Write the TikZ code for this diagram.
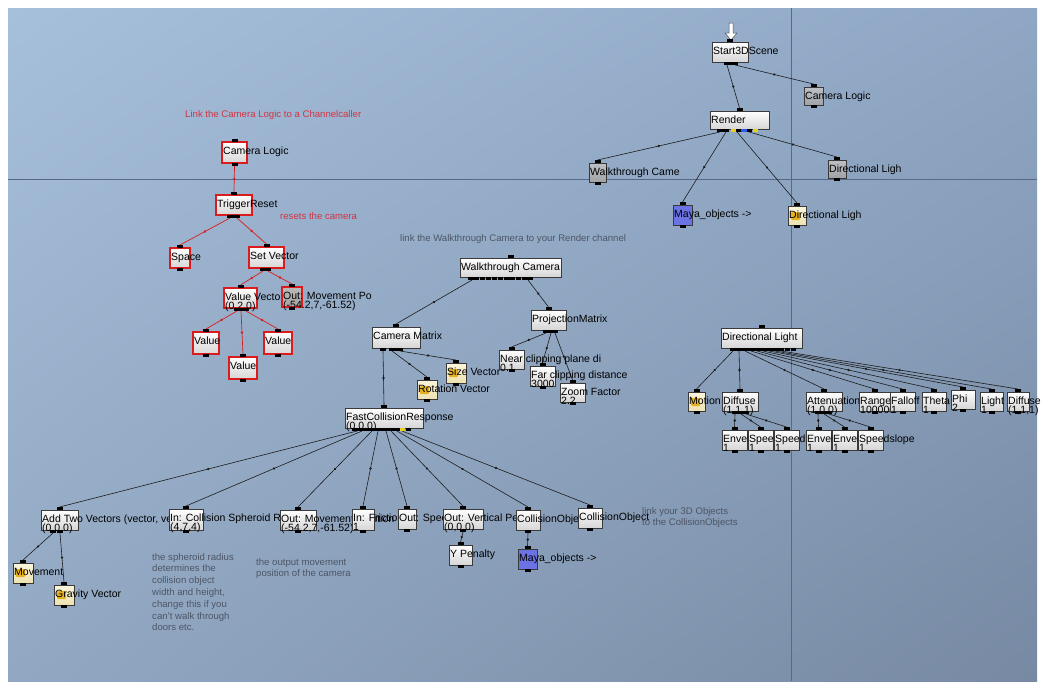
\documentclass[tikz,border=0pt]{standalone}
\usepackage{fontspec}
\setmainfont{Liberation Sans}
\usepackage{tikz}
\usetikzlibrary{
  calc,
  positioning,
  shadings,
  decorations.markings,
}
\definecolor{bgtl}{HTML}{A6BFDB}
\definecolor{bgtr}{HTML}{8FA7C4}
\definecolor{bgbl}{HTML}{92A8C2}
\definecolor{bgbr}{HTML}{7789A3}
\definecolor{gridc}{HTML}{56698A}
\definecolor{linkc}{HTML}{1C1C1C}
\definecolor{redc}{HTML}{DC1C1C}
\definecolor{boxline}{HTML}{3A3A3A}
\definecolor{boxbot}{HTML}{D6D6D6}
\definecolor{refgrey}{HTML}{BDC0C4}
\definecolor{mayablue}{HTML}{6B72E4}
\definecolor{yelt}{HTML}{FBF6DC}
\definecolor{yelb}{HTML}{EDE2B0}
\definecolor{iconc}{HTML}{E6B020}
\definecolor{pinyel}{HTML}{E8D020}
\definecolor{pinblue}{HTML}{2A5CF0}
\definecolor{notegrey}{HTML}{4C5666}
\definecolor{notered}{HTML}{D03444}

\pgfdeclarelayer{bg}
\pgfsetlayers{bg,main}

\newcommand{\lblfont}{\fontsize{10.5}{12}\selectfont}
\newcommand{\notefont}{\fontsize{9.6}{11.8}\selectfont}

\tikzset{
  plainbox/.style={draw=boxline, line width=0.6pt, top color=white, bottom color=boxbot,
    inner sep=0pt, outer sep=0pt},
  refbox/.style={plainbox, top color=refgrey, bottom color=refgrey!85!black},
  bluebox/.style={plainbox, top color=mayablue, bottom color=mayablue},
  yelbox/.style={plainbox, top color=yelt, bottom color=yelb,
    path picture={\fill[iconc, rounded corners=1pt]
      ([xshift=3pt,yshift=-6pt]path picture bounding box.north west) rectangle ++(9pt,-8pt);}},
  redbox/.style={plainbox, draw=redc, line width=1.5pt},
  redout/.style={redbox, top color=gray!55, bottom color=gray!70},
  lbl/.style={anchor=base west, inner sep=0pt, font=\lblfont, text=black},
  note/.style={anchor=north west, inner sep=0pt, align=left, font=\notefont, text=notegrey},
  rednote/.style={note, text=notered},
  pinc/.style={fill=black},
  link/.style={draw=linkc, line width=0.6pt, postaction={decorate},
    decoration={markings, mark=at position 0.5 with {\fill[linkc] (0,0) circle (1.3pt);}}},
  redlink/.style={draw=redc, line width=0.7pt, postaction={decorate},
    decoration={markings, mark=at position 0.5 with {\fill[redc] (0,0) circle (1.4pt);}}},
}

% box: [style]{name}{x}{y}{w}{h}{label}{second line}
\newcommand{\blk}[8][plainbox]{%
  \node[#1, minimum width=#5, minimum height=#6, anchor=north west] (#2) at (#3,#4) {};
  \fill[pinc] ([xshift=-3pt]#2.north) rectangle ([xshift=3pt,yshift=3pt]#2.north);
  \fill[pinc] ([xshift=-3pt]#2.south) rectangle ([xshift=3pt,yshift=-3pt]#2.south);
  \node[lbl] (#2-t) at ([xshift=1pt,yshift=-12pt]#2.north west) {#7};
  \if\relax\detokenize{#8}\relax\else
    \node[lbl] (#2-s) at ([xshift=1pt,yshift=-21pt]#2.north west) {#8};
  \fi
}
% connector: [style]{parent}{x offset on parent bottom}{child}
\newcommand{\lnk}[4][link]{%
  \fill[pinc] ([xshift=#3pt-3pt]#2.south west) rectangle ([xshift=#3pt+3pt,yshift=-3pt]#2.south west);
  \begin{pgfonlayer}{bg}
    \draw[#1] ([xshift=#3pt,yshift=-3pt]#2.south west) -- ([yshift=3pt]#4.north);
  \end{pgfonlayer}
}

\begin{document}
\begin{tikzpicture}[x=1pt, y=-1pt]
  \useasboundingbox (0,0) rectangle (1041,686);
  \begin{pgfonlayer}{bg}
    \fill[white] (0,0) rectangle (1041,686);
    \shade[upper left=bgtl, upper right=bgtr, lower left=bgbl, lower right=bgbr]
      (8,8) rectangle (1037,681);
    \draw[gridc, line width=0.8pt] (8,179) -- (1037,179);
    \draw[gridc, line width=0.8pt] (791,8) -- (791,681);
  \end{pgfonlayer}

  % scene start
  \filldraw[fill=white, draw=gray!60!black, line width=0.5pt]
    (729,23) -- (733,23) -- (733,33) -- (737,33) -- (731,40) -- (725,33) -- (729,33) -- cycle;
  \blk{start}{712}{42}{36}{20}{Start3DScene}{}
  \blk[refbox]{camref}{804}{87}{19}{18}{Camera Logic}{}
  \blk{render}{710}{111}{59}{18}{Render}{}
  \blk[refbox]{walkref}{589}{163}{17}{19}{Walkthrough Came}{}
  \blk[bluebox]{mayatop}{673}{205}{19}{20}{Maya\_objects ->}{}
  \blk[yelbox]{dirlit}{788}{206}{18}{19}{Directional Ligh}{}
  \blk[refbox]{dirref}{828}{160}{18}{18}{Directional Ligh}{}
  \lnk{start}{15}{render}
  \lnk{start}{23}{camref}
  \lnk{render}{10}{walkref}
  \lnk{render}{16}{mayatop}
  \lnk{render}{27}{dirlit}
  \lnk{render}{39}{dirref}
  \fill[pinyel] ([xshift=21pt]render.south west) rectangle ++(5pt,-3pt);
  \fill[pinblue] ([xshift=31pt]render.south west) rectangle ++(6pt,-3pt);
  \fill[pinyel] ([xshift=43pt]render.south west) rectangle ++(5pt,-3pt);

  % camera reset logic
  \node[rednote] (note-link) at (185,110) {Link the Camera Logic to a Channelcaller};
  \node[rednote] (note-reset) at (280,212) {resets the camera};
  \blk[redbox]{camlogic}{222}{142}{25}{21}{Camera Logic}{}
  \blk[redbox]{trigger}{216}{195}{36}{20}{TriggerReset}{}
  \blk[redbox]{space}{170}{248}{20}{20}{Space}{}
  \blk[redbox]{setvec}{249}{247}{35}{21}{Set Vector}{}
  \blk[redbox]{valvec}{224}{288}{33}{20}{Value Vector}{(0,2,0)}
  \blk[redout]{outmove}{282}{287}{20}{20}{Out: Movement Po}{(-54.2,7,-61.52)}
  \blk[redbox]{valx}{193}{332}{26}{22}{Value}{}
  \blk[redbox]{valy}{229}{357}{28}{22}{Value}{}
  \blk[redbox]{valz}{264}{332}{28}{22}{Value}{}
  \lnk[redlink]{camlogic}{12.5}{trigger}
  \lnk[redlink]{trigger}{14}{space}
  \lnk[redlink]{trigger}{21}{setvec}
  \lnk[redlink]{setvec}{14}{valvec}
  \lnk[redlink]{setvec}{19}{outmove}
  \lnk[redlink]{valvec}{13}{valx}
  \lnk[redlink]{valvec}{17}{valy}
  \lnk[redlink]{valvec}{22}{valz}

  % walkthrough camera
  \node[note] (note-walk) at (400,234) {link the Walkthrough Camera to your Render channel};
  \blk{walk}{460}{258}{101}{19}{Walkthrough Camera}{}
  \foreach \dx in {10,16,...,70}
    \fill[pinc] ([xshift=\dx pt-2.5pt]walk.south west) rectangle ([xshift=\dx pt+2.5pt,yshift=-3pt]walk.south west);
  \blk{cammat}{372}{327}{48}{21}{Camera Matrix}{}
  \blk{projmat}{531}{310}{35}{20}{ProjectionMatrix}{}
  \blk[yelbox]{rotvec}{417}{380}{20}{19}{Rotation Vector}{}
  \blk[yelbox]{sizevec}{446}{363}{20}{20}{Size Vector}{}
  \blk{nearclip}{499}{350}{25}{19}{Near clipping plane di}{0.1}
  \blk{farclip}{530}{366}{25}{20}{Far clipping distance}{3000}
  \blk{zoomfac}{560}{383}{25}{19}{Zoom Factor}{2.2}
  \lnk{walk}{12}{cammat}
  \lnk{walk}{68}{projmat}
  \lnk{cammat}{20}{rotvec}
  \lnk{cammat}{28}{sizevec}
  \lnk{projmat}{15}{nearclip}
  \lnk{projmat}{20}{farclip}
  \lnk{projmat}{24}{zoomfac}

  % collision response
  \blk{fcr}{345}{408}{78}{20}{FastCollisionResponse}{(0,0,0)}
  \lnk{cammat}{11}{fcr}
  \foreach \dx in {9,15,...,63}
    \fill[pinc] ([xshift=\dx pt-2.5pt]fcr.south west) rectangle ([xshift=\dx pt+2.5pt,yshift=-3pt]fcr.south west);
  \blk{addvec}{41}{510}{37}{20}{Add Two Vectors (vector, vector)}{(0,0,0)}
  \blk{inrad}{169}{509}{34}{21}{In: Collision Spheroid Radius}{(4,7,4)}
  \blk{outpos}{280}{510}{36}{20}{Out: Movement Position}{(-54.2,7,-61.52)}
  \blk{infric}{352}{509}{22}{21}{In: Friction}{1}
  \blk{outspeed}{398}{509}{18}{20}{Out: Speed}{}
  \blk{outvpen}{443}{509}{40}{20}{Out: Vertical Penalty}{(0,0,0)}
  \blk{colobja}{516}{510}{24}{20}{CollisionObject}{}
  \blk{colobjb}{578}{508}{24}{20}{CollisionObject}{}
  \blk{ypen}{449}{545}{23}{20}{Y Penalty}{}
  \blk[bluebox]{mayabot}{518}{549}{19}{20}{Maya\_objects ->}{}
  \blk[yelbox]{movement}{13}{563}{20}{20}{Movement}{}
  \blk[yelbox]{gravity}{54}{585}{20}{20}{Gravity Vector}{}
  \lnk{fcr}{12}{addvec}
  \lnk{fcr}{17}{inrad}
  \lnk{fcr}{27}{outpos}
  \lnk{fcr}{33}{infric}
  \lnk{fcr}{41}{outspeed}
  \lnk{fcr}{46}{outvpen}
  \lnk{fcr}{52}{colobja}
  \lnk{fcr}{57}{colobjb}
  \fill[pinyel] ([xshift=55pt]fcr.south west) rectangle ++(5pt,-3pt);
  \lnk{outvpen}{20}{ypen}
  \lnk{colobja}{12}{mayabot}
  \lnk{addvec}{12}{movement}
  \lnk{addvec}{19}{gravity}
  \node[note] (note-radius) at (152,553) {the spheroid radius\\determines the\\collision object\\width and height,\\change this if you\\can't walk through\\doors etc.};
  \node[note] (note-output) at (256,558) {the output movement\\position of the camera};
  \node[note] (note-objects) at (642,507) {link your 3D Objects\\to the CollisionObjects};

  % directional light
  \blk{dirlight}{721}{328}{81}{20}{Directional Light}{}
  \foreach \dx in {12,18,...,72}
    \fill[pinc] ([xshift=\dx pt-2.5pt]dirlight.south west) rectangle ([xshift=\dx pt+2.5pt,yshift=-3pt]dirlight.south west);
  \blk[yelbox]{motion}{688}{392}{17}{19}{Motion}{}
  \blk{diffa}{722}{392}{36}{19}{Diffuse}{(1,1,1)}
  \blk{atten}{806}{392}{36}{19}{Attenuation}{(1,0,0)}
  \blk{range}{859}{392}{31}{19}{Range}{100000}
  \blk{falloff}{890}{392}{25}{19}{Falloff}{1}
  \blk{theta}{922}{392}{24}{19}{Theta}{1}
  \blk{phi}{951}{390}{24}{19}{Phi}{2}
  \blk{light}{980}{392}{23}{19}{Light}{1}
  \blk{diffb}{1007}{392}{22}{19}{Diffuse}{(1,1,1)}
  \lnk{dirlight}{12}{motion}
  \lnk{dirlight}{18}{diffa}
  \lnk{dirlight}{24}{atten}
  \lnk{dirlight}{30}{range}
  \lnk{dirlight}{36}{falloff}
  \lnk{dirlight}{42}{theta}
  \lnk{dirlight}{48}{phi}
  \lnk{dirlight}{54}{light}
  \lnk{dirlight}{60}{diffb}
  \blk{enva}{722}{430}{25}{20}{Envelope}{1}
  \blk{speeda}{748}{430}{25}{20}{Speed}{1}
  \blk{slopea}{774}{430}{25}{20}{Speedslope}{1}
  \blk{envb}{806}{430}{25}{20}{Envelope}{1}
  \blk{envc}{832}{430}{25}{20}{Envelope}{1}
  \blk{slopeb}{858}{430}{25}{20}{Speedslope}{1}
  \lnk{diffa}{13}{enva}
  \lnk{diffa}{19}{speeda}
  \lnk{diffa}{24}{slopea}
  \lnk{atten}{12}{envb}
  \lnk{atten}{18}{envc}
  \lnk{atten}{23}{slopeb}
\end{tikzpicture}
\end{document}
